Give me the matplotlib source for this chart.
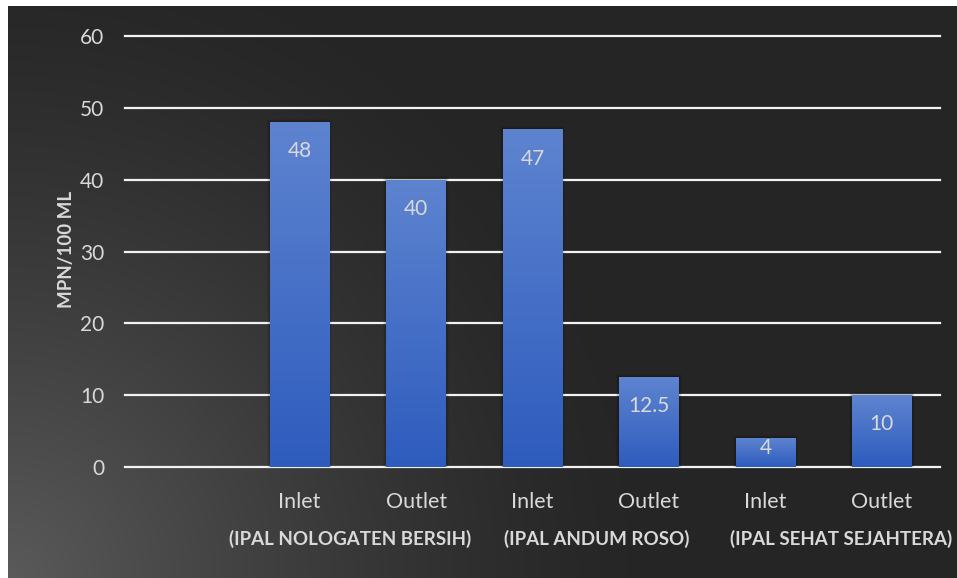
import numpy as np
import matplotlib
matplotlib.use('Agg')
import matplotlib.pyplot as plt
from matplotlib.patches import Rectangle

categories = ['', 'Inlet', 'Outlet', 'Inlet', 'Outlet', 'Inlet', 'Outlet']
values = [None, 48, 40, 47, 12.5, 4, 10]
groups = ['(IPAL NOLOGATEN BERSIH)', '(IPAL ANDUM ROSO)', '(IPAL SEHAT SEJAHTERA)']
group_x = [1.43, 3.55, 5.65]
y_ticks = [0, 10, 20, 30, 40, 50, 60]

TEXT = '#d9d9d9'
plt.rcParams['font.family'] = ['Lato', 'DejaVu Sans']

W, H = 957, 578
fig = plt.figure(figsize=(W / 100, H / 100), dpi=100)
fig.patch.set_facecolor('white')

# dark backdrop, lighter towards the bottom-left corner
bg = fig.add_axes([8 / W, 0, 1 - 8 / W, 1 - 6 / H])
bg.set_axis_off()
yy, xx = np.mgrid[0:572, 0:949]
d = np.hypot(xx, 572 - yy)
t = np.clip(1 - d / 620, 0, 1) ** 1.3
shade = (0x26 + (0x5a - 0x26) * t) / 255
bg.imshow(np.dstack([shade, shade, shade]), aspect='auto',
          extent=[0, 1, 0, 1], origin='upper')
bg.set_xlim(0, 1)
bg.set_ylim(0, 1)

ax = fig.add_axes([125 / W, 111 / H, 815 / W, 431 / H])
ax.patch.set_alpha(0)
for s in ax.spines.values():
    s.set_visible(False)
ax.set_xlim(-0.5, len(categories) - 0.5)
ax.set_ylim(0, 60)

for y in y_ticks:
    ax.axhline(y, color='#f2f2f2', lw=1.6, zorder=1, clip_on=False)

x = np.arange(len(categories))
top = np.array([0x5e, 0x84, 0xd0]) / 255
bottom = np.array([0x2e, 0x5c, 0xbe]) / 255
ramp = np.linspace(0, 1, 256)[:, None]
grad = (top[None, :] * (1 - ramp) + bottom[None, :] * ramp)[:, None, :]

px_per_unit = 431 / 60
bar_w = 0.51
for xi, v in zip(x, values):
    if v is None:
        continue
    # soft shadow behind each bar
    for k, a in [(0.05, 0.06), (0.035, 0.08), (0.02, 0.1)]:
        ax.add_patch(Rectangle((xi - bar_w / 2 - k * 0.5, -0.3), bar_w + k, v + 0.3 + k * 10,
                               facecolor='black', alpha=a, lw=0, zorder=2))
    bar = ax.bar(xi, v, width=bar_w, color='none', zorder=3)[0]
    im = ax.imshow(grad, extent=[xi - bar_w / 2, xi + bar_w / 2, 0, v],
                   aspect='auto', zorder=3, origin='upper')
    im.set_clip_path(bar)
    # label sits near the top end, or in the middle when the bar is too short
    if v * px_per_unit > 60:
        pos, off = v, -21
    else:
        pos, off = v / 2, 3
    ax.annotate(f'{v:g}', (xi, pos), xytext=(0, off), textcoords='offset points',
                ha='center', va='center', color=TEXT, fontsize=15, zorder=4)

ax.set_xticks(x)
ax.set_xticklabels(categories)
ax.set_yticks(y_ticks)
ax.tick_params(axis='both', length=0, colors=TEXT)
ax.tick_params(axis='y', pad=15, labelsize=15)
ax.tick_params(axis='x', pad=18, labelsize=15.5)

ax.set_ylabel('MPN/100 ML', color=TEXT, fontsize=13.5, fontweight='bold')
ax.yaxis.set_label_coords(-50 / 815, 0.505)

for gx, name in zip(group_x, groups):
    ax.text(gx, -72 / px_per_unit, name, ha='center', va='center',
            color=TEXT, fontsize=13.5, fontweight='bold', clip_on=False)

fig.savefig('out.png', dpi=100)
